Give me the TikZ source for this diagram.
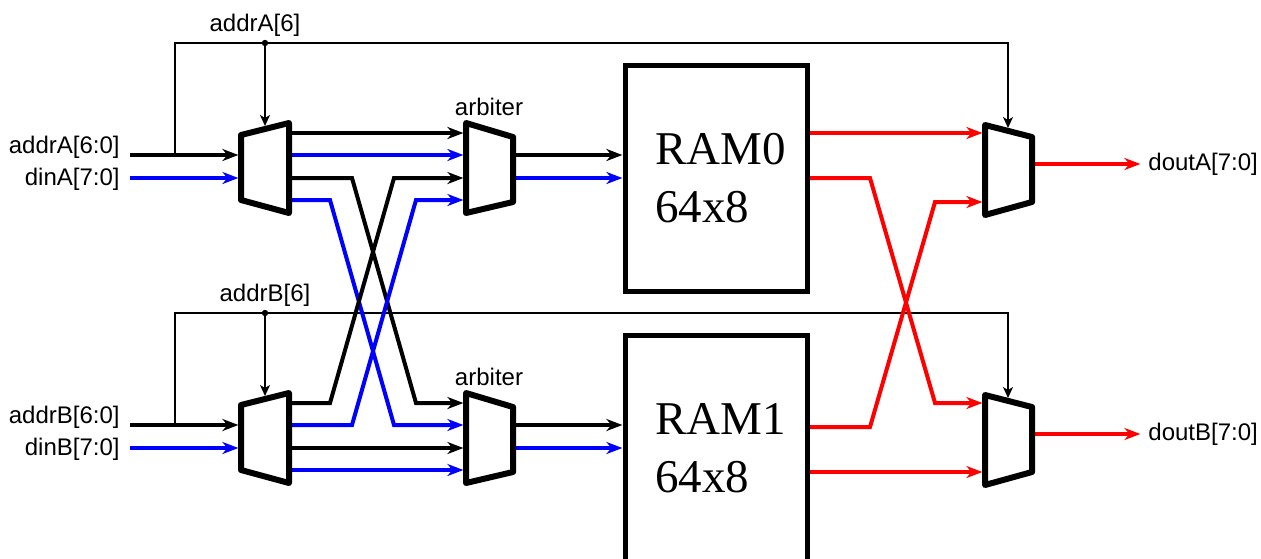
\documentclass[tikz,border=0pt]{standalone}
\usepackage{fontspec}
\setsansfont{Liberation Sans}
\newfontfamily\ramfont{Liberation Serif}
\usetikzlibrary{arrows.meta}

\begin{document}
\begin{tikzpicture}[x=0.5pt,y=-0.5pt,
        bus/.style={line width=2pt,shorten >=1.3pt,-{Stealth[length=8pt,width=6pt,inset=2.5pt]}},
        wire/.style={line width=0.75pt,-{Stealth[length=5.5pt,width=5pt,inset=1.5pt]}},
        block/.style={line width=3pt,line join=round,fill=white},
        ram/.style={draw,line width=2.5pt,outer sep=0pt,inner sep=0pt,minimum width=91pt,minimum height=113pt,anchor=north west},
        txt/.style={font=\sffamily\fontsize{12}{14}\selectfont,inner sep=0pt},
        ramtxt/.style={font=\ramfont\fontsize{23.5}{28}\selectfont,inner sep=0pt,anchor=base west}]
    \useasboundingbox (0,0) rectangle (1261,558);
    \foreach \p/\o/\r in {A/0/0,B/270/1}
    {
        % labels
        \node[txt,anchor=east] (addr\p) at (120,147+\o) {addr\p[6:0]};
        \node[txt,anchor=east] (din\p) at (120,179+\o) {din\p[7:0]};
        \node[txt] (sel\p) at (255+10*\r,25+\o) {addr\p[6]};
        \node[txt] (arb\p) at (489,107+\o) {arbiter};
        \node[txt,anchor=west,inner sep=2.5pt] (dout\p) at (1143,164+\o) {dout\p[7:0]};
        % memory
        \node[ram] (ram\r) at (625,65+\o) {};
        \node[ramtxt] (ram\r-n) at (655,164+\o) {RAM\r};
        \node[ramtxt] (ram\r-s) at (655,222+\o) {64x8};
        % ports
        \coordinate (addr\p-s) at (130,155+\o);
        \coordinate (din\p-s) at (130,178+\o);
        \coordinate (join\p) at (175,155+\o);
        \coordinate (tap\p) at (265,43+\o);
        \coordinate (bend\p) at (1008,43+\o);
        \coordinate (dmx\p-a) at (241,155+\o);
        \coordinate (dmx\p-d) at (241,178+\o);
        \coordinate (dmx\p-s) at (265,126+\o);
        \foreach \k/\y in {1/133,2/155,3/178,4/200}
        {
            \coordinate (dmx\p-o\k) at (289,\y+\o);
            \coordinate (arb\p-i\k) at (466,\y+\o);
        }
        \coordinate (arb\p-q1) at (513,155+\o);
        \coordinate (arb\p-q2) at (513,178+\o);
        \coordinate (omx\p-i1) at (985,133+\o);
        \coordinate (omx\p-i2) at (985,202+\o);
        \coordinate (omx\p-s) at (1008,128+\o);
        \coordinate (omx\p-q) at (1032,164+\o);
        % inputs, select and memory ports
        \draw[bus] (addr\p-s) -- (dmx\p-a);
        \draw[bus,blue] (din\p-s) -- (dmx\p-d);
        \draw[bus] (arb\p-q1) -- (ram\r.west |- arb\p-q1);
        \draw[bus,blue] (arb\p-q2) -- (ram\r.west |- arb\p-q2);
        \draw[bus,red] (omx\p-q) -- (dout\p.west);
        \draw[wire] (join\p) |- (bend\p) -- (omx\p-s);
        \draw[wire] (tap\p) -- (dmx\p-s);
        \fill (tap\p) circle (1.6pt);
    }
    \coordinate (ram0-q1) at (810,133);
    \coordinate (ram0-q2) at (810,178);
    \coordinate (ram1-q1) at (810,427);
    \coordinate (ram1-q2) at (810,472);
    % write side
    \draw[bus] (dmxA-o1) -- (arbA-i1);
    \draw[bus,blue] (dmxA-o2) -- (arbA-i2);
    \draw[bus] (dmxA-o3) -- ++(63,0) -- ([xshift=-25pt]arbB-i1) -- (arbB-i1);
    \draw[bus,blue] (dmxA-o4) -- ++(41,0) -- ([xshift=-36pt]arbB-i2) -- (arbB-i2);
    \draw[bus] (dmxB-o1) -- ++(41,0) -- ([xshift=-36pt]arbA-i3) -- (arbA-i3);
    \draw[bus,blue] (dmxB-o2) -- ++(63,0) -- ([xshift=-25pt]arbA-i4) -- (arbA-i4);
    \draw[bus] (dmxB-o3) -- (arbB-i3);
    \draw[bus,blue] (dmxB-o4) -- (arbB-i4);
    % read side
    \draw[bus,red] (ram0-q1) -- (omxA-i1);
    \draw[bus,red] (ram0-q2) -- ++(60,0) -- ([xshift=-25pt]omxB-i1) -- (omxB-i1);
    \draw[bus,red] (ram1-q1) -- ++(60,0) -- ([xshift=-25pt]omxA-i2) -- (omxA-i2);
    \draw[bus,red] (ram1-q2) -- (omxB-i2);
    % mux bodies
    \foreach \o in {0,270}
    {
        \draw[block] (241,135+\o) -- (289,123+\o) -- (289,213+\o) -- (241,200+\o) -- cycle;
        \draw[block] (466,123+\o) -- (513,137+\o) -- (513,202+\o) -- (466,213+\o) -- cycle;
        \draw[block] (985,125+\o) -- (1032,137+\o) -- (1032,202+\o) -- (985,215+\o) -- cycle;
    }
\end{tikzpicture}
\end{document}
